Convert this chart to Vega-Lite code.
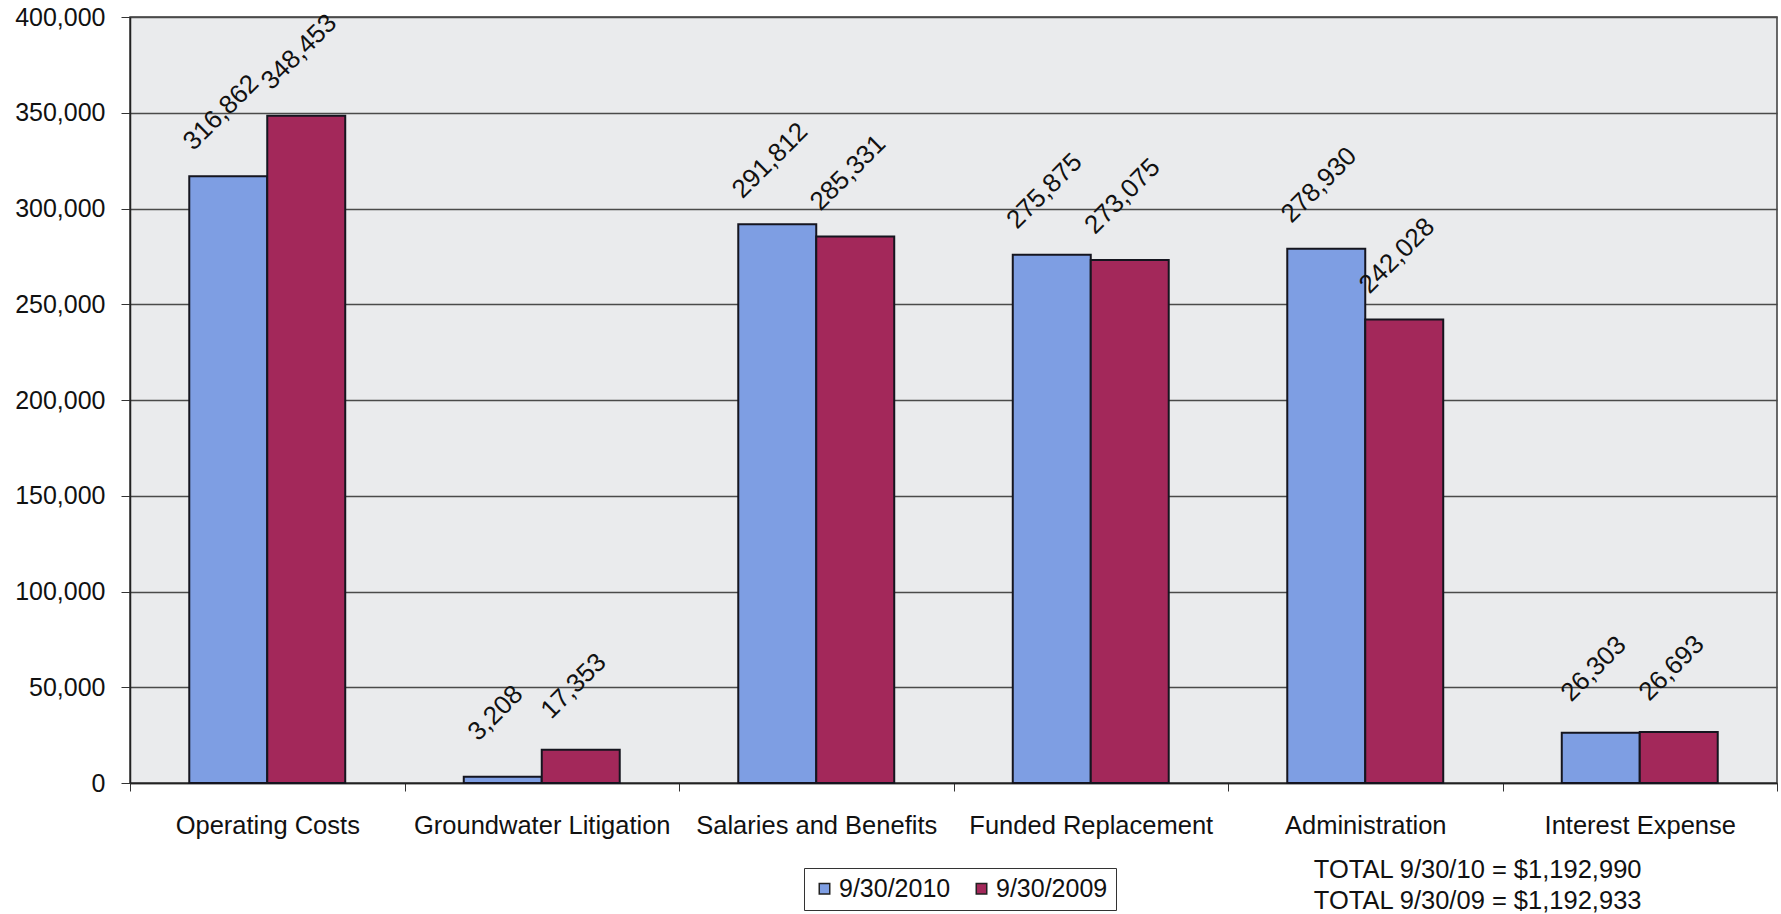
{
  "$schema": "https://vega.github.io/schema/vega-lite/v6.json",
  "width": 1647,
  "height": 766,
  "autosize": {"type": "none"},
  "padding": {"left": 130, "top": 17, "right": 4, "bottom": 131},
  "background": "white",
  "config": {
    "font": "Liberation Sans",
    "view": {"fill": "#eaebed", "stroke": "#3a3a3a", "strokeWidth": 1.5}
  },
  "title": {
    "text": ["TOTAL 9/30/10 = $1,192,990", "TOTAL 9/30/09 = $1,192,933"],
    "orient": "bottom",
    "anchor": "end",
    "align": "right",
    "baseline": "top",
    "fontSize": 25.5,
    "fontWeight": "normal",
    "color": "#111",
    "lineHeight": 31,
    "dx": -136,
    "dy": -53,
    "offset": 0
  },
  "data": {
    "values": [
      {"category": "Operating Costs", "period": "9/30/2010", "amount": 316862},
      {"category": "Operating Costs", "period": "9/30/2009", "amount": 348453},
      {"category": "Groundwater Litigation", "period": "9/30/2010", "amount": 3208},
      {"category": "Groundwater Litigation", "period": "9/30/2009", "amount": 17353},
      {"category": "Salaries and Benefits", "period": "9/30/2010", "amount": 291812},
      {"category": "Salaries and Benefits", "period": "9/30/2009", "amount": 285331},
      {"category": "Funded Replacement", "period": "9/30/2010", "amount": 275875},
      {"category": "Funded Replacement", "period": "9/30/2009", "amount": 273075},
      {"category": "Administration", "period": "9/30/2010", "amount": 278930},
      {"category": "Administration", "period": "9/30/2009", "amount": 242028},
      {"category": "Interest Expense", "period": "9/30/2010", "amount": 26303},
      {"category": "Interest Expense", "period": "9/30/2009", "amount": 26693}
    ]
  },
  "encoding": {
    "x": {
      "field": "category",
      "type": "nominal",
      "sort": null,
      "scale": {"paddingInner": 0, "paddingOuter": 0},
      "axis": {
        "title": null,
        "labelAngle": 0,
        "labelFontSize": 25.5,
        "labelLimit": 0,
        "labelColor": "#111",
        "labelPadding": 22,
        "tickBand": "extent",
        "tickSize": 8,
        "tickColor": "#333",
        "domainColor": "#222",
        "domainWidth": 1.5
      }
    },
    "xOffset": {
      "field": "period",
      "type": "nominal",
      "sort": ["9/30/2010", "9/30/2009"],
      "scale": {"paddingOuter": 0.76, "paddingInner": 0}
    },
    "y": {
      "field": "amount",
      "type": "quantitative",
      "scale": {"domain": [0, 400000], "nice": false},
      "axis": {
        "title": null,
        "values": [0, 50000, 100000, 150000, 200000, 250000, 300000, 350000, 400000],
        "format": ",d",
        "labelFontSize": 25,
        "labelColor": "#111",
        "labelPadding": 16,
        "tickSize": 9,
        "tickColor": "#333",
        "domainColor": "#222",
        "domainWidth": 1.5,
        "grid": true,
        "gridColor": "#4a4a4a",
        "gridWidth": 1.5
      }
    }
  },
  "layer": [
    {
      "mark": {"type": "bar", "stroke": "#15151f", "strokeWidth": 2},
      "encoding": {
        "color": {
          "field": "period",
          "type": "nominal",
          "sort": ["9/30/2010", "9/30/2009"],
          "scale": {"domain": ["9/30/2010", "9/30/2009"], "range": ["#7e9ee3", "#a3285a"]},
          "legend": {
            "title": null,
            "orient": "none",
            "legendX": 674,
            "legendY": 851,
            "direction": "horizontal",
            "strokeColor": "#333",
            "padding": 8,
            "symbolType": "square",
            "symbolSize": 110,
            "symbolStrokeColor": "#222",
            "symbolStrokeWidth": 1.5,
            "labelFontSize": 25,
            "labelColor": "#111",
            "labelOffset": 2,
            "columnPadding": 18
          }
        }
      }
    },
    {
      "mark": {
        "type": "text",
        "angle": 315,
        "align": "center",
        "baseline": "middle",
        "dx": 40,
        "dy": -50,
        "fontSize": 26,
        "color": "#111"
      },
      "encoding": {
        "text": {"field": "amount", "type": "quantitative", "format": ",d"}
      }
    }
  ]
}
